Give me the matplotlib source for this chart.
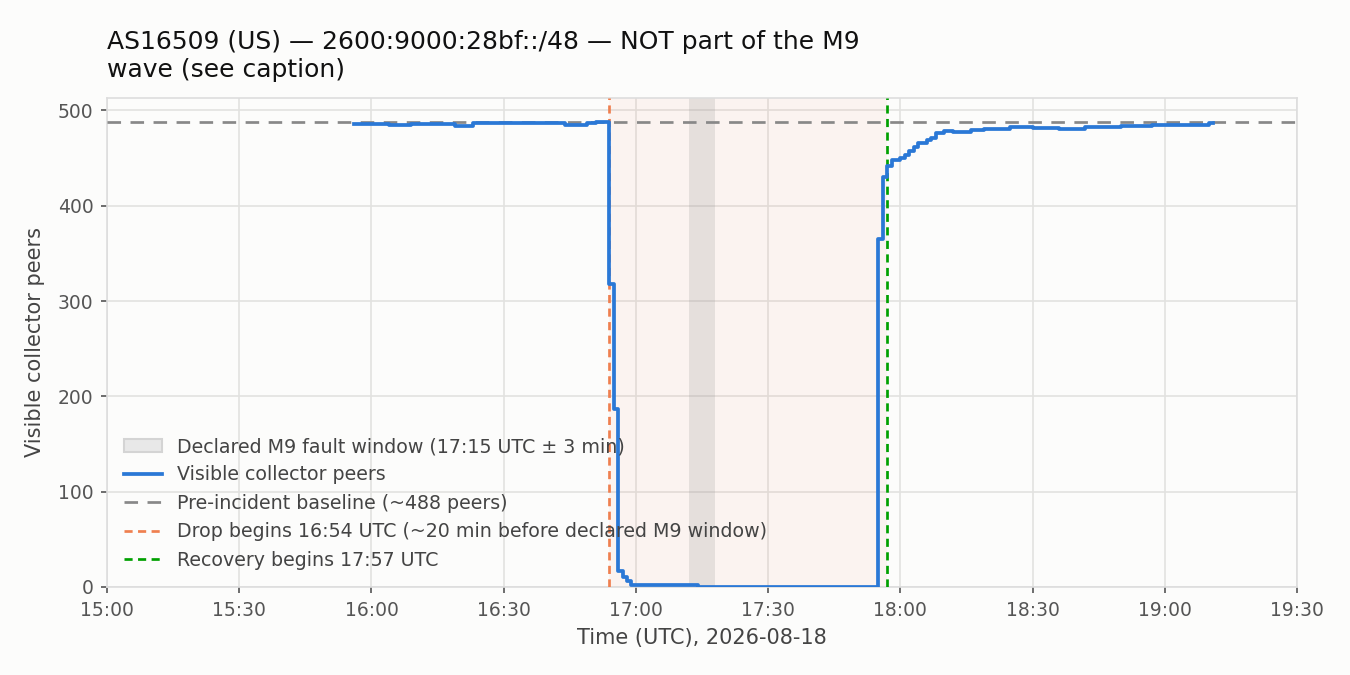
import matplotlib
matplotlib.use("Agg")
import matplotlib.pyplot as plt
import matplotlib.dates as mdates
from matplotlib.patches import Patch
from matplotlib.lines import Line2D
import pandas as pd

date = "2026-08-18"
times = ["15:56", "16:04", "16:09", "16:19", "16:23", "16:44", "16:49", "16:51",
         "16:54", "16:55", "16:56", "16:57", "16:58", "16:59", "17:14",
         "17:55", "17:56", "17:57", "17:58", "18:00", "18:01", "18:02", "18:03",
         "18:04", "18:06", "18:07", "18:08", "18:10", "18:12", "18:16", "18:19",
         "18:22", "18:25", "18:28", "18:30", "18:36", "18:42", "18:48", "18:50",
         "18:57", "19:10", "19:11"]
peers = [486, 485, 486, 484, 487, 485, 487, 488,
         318, 187, 17, 10, 6, 2, 0,
         365, 430, 442, 448, 450, 453, 457, 462,
         466, 469, 471, 476, 478, 477, 479, 480,
         481, 483, 483, 482, 481, 483, 483, 484,
         485, 487, 487]
baseline = 488
drop_time = "16:54"
recovery_time = "17:57"
m9_start, m9_end = "17:12", "17:18"
x_start, x_end = "15:00", "19:30"
xticks = ["15:00", "15:30", "16:00", "16:30", "17:00", "17:30", "18:00", "18:30", "19:00", "19:30"]
yticks = [0, 100, 200, 300, 400, 500]

def ts(t):
    return pd.Timestamp(f"{date} {t}")

tx = [ts(t) for t in times]

bg = "#fcfcfb"
fig = plt.figure(figsize=(9, 4.5), dpi=150, facecolor=bg)
ax = fig.add_axes([0.0793, 0.1304, 0.8814, 0.7244], facecolor=bg)
ax.set_axisbelow(True)
ax.grid(True, color="#e2e2e0", linewidth=0.8)

ax.axvspan(ts(drop_time), ts(recovery_time), color="#f08060", alpha=0.07, lw=0, zorder=1)
ax.axvspan(ts(m9_start), ts(m9_end), color="#909090", alpha=0.2, lw=0, zorder=1.5)

ax.plot(tx, peers, drawstyle="steps-post", color="#2a78d6", lw=1.8, zorder=4)
ax.axhline(baseline, color="#888888", lw=1.3, ls=(0, (5, 3.5)), zorder=3)
ax.axvline(ts(drop_time), color="#ef7f4f", lw=1.3, ls=(0, (3, 2)), zorder=3)
ax.axvline(ts(recovery_time), color="#00a000", lw=1.3, ls=(0, (3, 2)), zorder=3)

ax.set_xlim(ts(x_start), ts(x_end))
ax.set_ylim(0, 513)
ax.set_xticks([ts(t) for t in xticks])
ax.xaxis.set_major_formatter(mdates.DateFormatter("%H:%M"))
ax.set_yticks(yticks)

for s in ax.spines.values():
    s.set_color("#dddddd")
    s.set_linewidth(0.8)
ax.tick_params(colors="#555555", labelsize=9, length=3, width=0.8)
ax.tick_params(axis="both", color="#555555")

ax.set_xlabel(f"Time (UTC), {date}", fontsize=10, color="#444444")
ax.set_ylabel("Visible collector peers", fontsize=10, color="#444444", labelpad=6)
ax.set_title("AS16509 (US) — 2600:9000:28bf::/48 — NOT part of the M9\nwave (see caption)",
             loc="left", fontsize=12, color="#111111", pad=10)

handles = [
    Patch(facecolor="#e8e8e8", edgecolor="#d4d4d4", label="Declared M9 fault window (17:15 UTC ± 3 min)"),
    Line2D([], [], color="#2a78d6", lw=1.8, label="Visible collector peers"),
    Line2D([], [], color="#888888", lw=1.3, ls=(0, (5, 3.5)), label="Pre-incident baseline (~488 peers)"),
    Line2D([], [], color="#ef7f4f", lw=1.3, ls=(0, (3, 2)), label="Drop begins 16:54 UTC (~20 min before declared M9 window)"),
    Line2D([], [], color="#00a000", lw=1.3, ls=(0, (3, 2)), label="Recovery begins 17:57 UTC"),
]
leg = ax.legend(handles=handles, loc="lower left", frameon=False, fontsize=9.1,
                labelcolor="#444444", borderaxespad=0.5)

fig.savefig("out.png", dpi=150, facecolor=bg)
